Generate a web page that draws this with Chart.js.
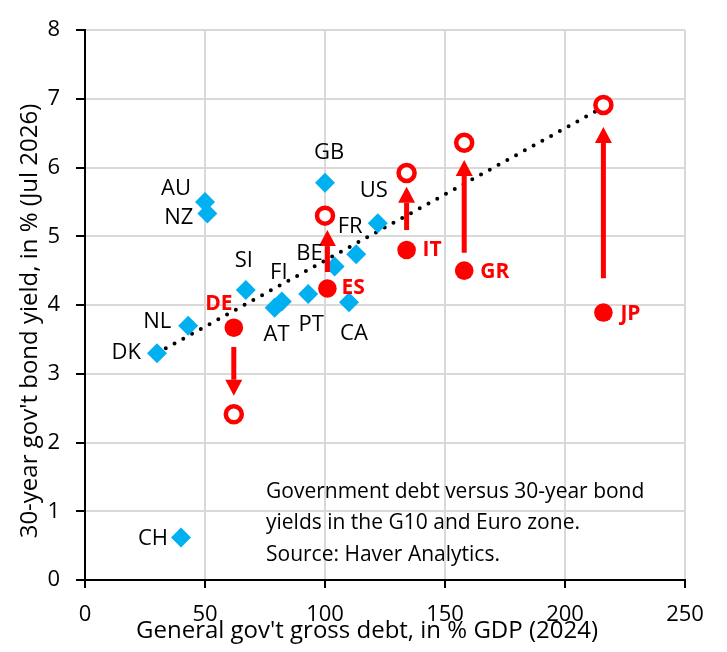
<!DOCTYPE html>
<html>
<head>
<meta charset="utf-8">
<script src="https://cdn.jsdelivr.net/npm/chart.js@4"></script>
<style>
  html, body { margin: 0; padding: 0; background: #fff; }
  #wrap { width: 727px; height: 652px; }
</style>
</head>
<body>
<div id="wrap"><canvas id="chart"></canvas></div>
<script>
// blue countries: debt (% GDP 2024) and 30y yield
const blueCodes = ["DK", "NL", "AU", "NZ", "SI", "AT", "FI", "PT", "GB", "BE", "CA", "FR", "US", "CH"];
const blueDebt = [30, 43, 50, 51, 67, 79, 82, 93, 100, 104, 110, 113, 122, 40];
const blueYield = [3.3, 3.7, 5.5, 5.33, 4.22, 3.96, 4.05, 4.16, 5.78, 4.56, 4.04, 4.74, 5.19, 0.62];

// red countries: current yield (filled) and shifted yield (open)
const redCodes = ["DE", "ES", "IT", "GR", "JP"];
const redDebt = [62, 101, 134, 158, 216];
const redYield = [3.67, 4.24, 4.8, 4.5, 3.89];
const redOpenDebt = [62, 100, 134, 158, 216];
const redOpenYield = [2.41, 5.3, 5.92, 6.36, 6.91];
const arrowFrom = [3.39, 4.48, 5.09, 4.76, 4.39];
const arrowTo = [2.68, 5.09, 5.72, 6.11, 6.59];

const trendX = [30, 215];
const trendY = [3.3, 6.86];

const xTicks = [0, 50, 100, 150, 200, 250];
const yTicks = [0, 1, 2, 3, 4, 5, 6, 7, 8];

const xTitle = "General gov't gross debt, in % GDP (2024)";
const yTitle = "30-year gov't bond yield, in % (Jul 2026)";
const noteLines = [
  "Government debt versus 30-year bond",
  "yields in the G10 and Euro zone.",
  "Source: Haver Analytics."
];

const FONT = "'Open Sans', 'Noto Sans', sans-serif";
const RED = "#ff0000";
const BLUE = "#00b0f0";

// label offsets in px [dx, dy, align]
const blueLabelPos = {
  DK: [-16, 0, "right"], NL: [-17, -4, "right"], AU: [-14, -13, "right"],
  NZ: [-14, 4, "right"], SI: [-2, -29, "center"], AT: [2, 27, "center"],
  FI: [-3, -29, "center"], PT: [3, 31, "center"], GB: [4, -30, "center"],
  BE: [-12, -13, "right"], CA: [5, 31, "center"], FR: [-6, -27, "center"],
  US: [-4, -32, "center"], CH: [-13, 1, "right"]
};
const redLabelPos = {
  DE: [-15, -24, "center"], ES: [14, 0, "left"], IT: [16, 0, "left"],
  GR: [16, 1, "left"], JP: [17, 1, "left"]
};

const overlay = {
  id: "overlay",
  afterDatasetsDraw(chart) {
    const ctx = chart.ctx;
    const xs = chart.scales.x, ys = chart.scales.y;
    ctx.save();

    // arrows
    ctx.fillStyle = RED;
    ctx.strokeStyle = RED;
    redDebt.forEach((d, i) => {
      const x = xs.getPixelForValue(d);
      const y0 = ys.getPixelForValue(arrowFrom[i]);
      const y1 = ys.getPixelForValue(arrowTo[i]);
      const dir = y1 < y0 ? -1 : 1;
      const headLen = 16, headW = 8.5;
      ctx.lineWidth = 5;
      ctx.beginPath();
      ctx.moveTo(x, y0);
      ctx.lineTo(x, y1 - dir * headLen);
      ctx.stroke();
      ctx.beginPath();
      ctx.moveTo(x, y1);
      ctx.lineTo(x - headW, y1 - dir * headLen);
      ctx.lineTo(x + headW, y1 - dir * headLen);
      ctx.closePath();
      ctx.fill();
    });

    // labels
    ctx.textBaseline = "middle";
    ctx.font = "22px " + FONT;
    ctx.fillStyle = "#000";
    blueCodes.forEach((c, i) => {
      const p = blueLabelPos[c];
      ctx.textAlign = p[2];
      ctx.fillText(c, xs.getPixelForValue(blueDebt[i]) + p[0], ys.getPixelForValue(blueYield[i]) + p[1]);
    });
    ctx.font = "bold 21px " + FONT;
    ctx.fillStyle = RED;
    redCodes.forEach((c, i) => {
      const p = redLabelPos[c];
      ctx.textAlign = p[2];
      ctx.fillText(c, xs.getPixelForValue(redDebt[i]) + p[0], ys.getPixelForValue(redYield[i]) + p[1]);
    });

    // note
    ctx.font = "21px " + FONT;
    ctx.fillStyle = "#000";
    ctx.textAlign = "left";
    noteLines.forEach((t, i) => ctx.fillText(t, 266, 492 + i * 31.5));

    // axis titles
    ctx.font = "24px " + FONT;
    ctx.textAlign = "center";
    ctx.fillText(xTitle, 367, 631);
    ctx.translate(30, 321);
    ctx.rotate(-Math.PI / 2);
    ctx.fillText(yTitle, 0, 0);
    ctx.restore();
  }
};

const ctx = document.getElementById("chart");

new Chart(ctx, {
  type: "scatter",
  data: {
    datasets: [
      {
        data: blueDebt.map((d, i) => ({ x: d, y: blueYield[i] })),
        pointStyle: "rectRot",
        pointRadius: 10,
        backgroundColor: BLUE,
        borderWidth: 0,
        order: 3
      },
      {
        data: redDebt.map((d, i) => ({ x: d, y: redYield[i] })),
        pointStyle: "circle",
        pointRadius: 9.3,
        backgroundColor: RED,
        borderWidth: 0,
        order: 2
      },
      {
        data: redOpenDebt.map((d, i) => ({ x: d, y: redOpenYield[i] })),
        pointStyle: "circle",
        pointRadius: 8,
        backgroundColor: "#fff",
        borderColor: RED,
        borderWidth: 4.5,
        order: 1
      },
      {
        data: trendX.map((d, i) => ({ x: d, y: trendY[i] })),
        showLine: true,
        pointRadius: 0,
        borderColor: "#000",
        borderWidth: 4,
        borderDash: [0, 10],
        borderCapStyle: "round",
        order: 10
      }
    ]
  },
  options: {
    responsive: true,
    maintainAspectRatio: false,
    animation: false,
    layout: { padding: { top: 30, right: 42, left: 0, bottom: 0 } },
    plugins: {
      legend: { display: false },
      tooltip: { enabled: false }
    },
    scales: {
      x: {
        type: "linear",
        min: 0,
        max: 250,
        afterFit: s => { s.height = 72; },
        afterBuildTicks: s => { s.ticks = xTicks.map(v => ({ value: v })); },
        ticks: { color: "#000", font: { family: FONT, size: 22 }, padding: 14, maxRotation: 0 },
        grid: { color: "#d9d9d9", lineWidth: 2, tickColor: "#000", tickLength: 8 },
        border: { color: "#000", width: 2 }
      },
      y: {
        type: "linear",
        min: 0,
        max: 8,
        afterFit: s => { s.width = 85; },
        afterBuildTicks: s => { s.ticks = yTicks.map(v => ({ value: v })); },
        ticks: { color: "#000", font: { family: FONT, size: 22 }, padding: 16 },
        grid: { color: "#d9d9d9", lineWidth: 2, tickColor: "#000", tickLength: 9 },
        border: { color: "#000", width: 2 }
      }
    }
  },
  plugins: [overlay]
});
</script>
</body>
</html>
